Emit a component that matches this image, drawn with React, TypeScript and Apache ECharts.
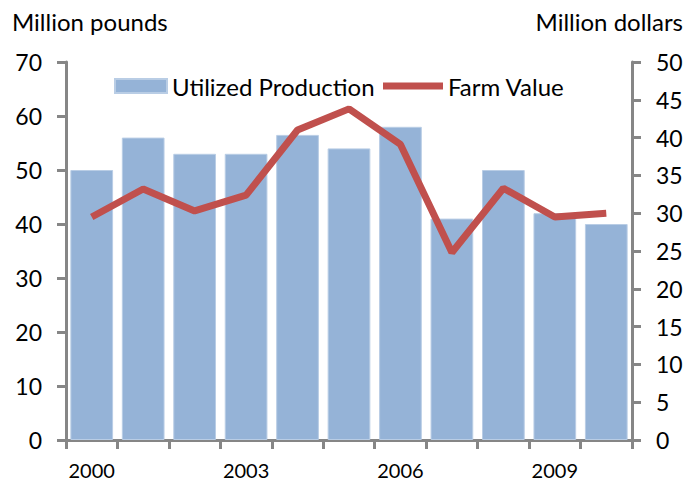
import React, { useEffect, useRef } from "react";
import * as echarts from "echarts";

const years = ["2000", "2001", "2002", "2003", "2004", "2005", "2006", "2007", "2008", "2009", "2010"];
const utilizedProduction = [50, 56, 53, 53, 56.5, 54, 58, 41, 50, 42, 40];
const farmValue = [29.5, 33.2, 30.3, 32.4, 41.0, 43.8, 39.1, 24.8, 33.3, 29.5, 30.0];

const FONT = "Lato, 'Open Sans', sans-serif";
const AXIS = "#868686";

export default function App() {
  const ref = useRef<HTMLDivElement>(null);
  useEffect(() => {
    if (!ref.current) return;
    const chart = echarts.init(ref.current, null, { renderer: "svg" });
    const legendText = { fontFamily: FONT, fontSize: 24, color: "#000" };
    chart.setOption({
      animation: false,
      textStyle: { fontFamily: FONT, color: "#000" },
      grid: { left: 66, right: 54, top: 62, bottom: 49, containLabel: false },
      legend: [
        {
          top: 74,
          left: 114,
          itemWidth: 52,
          itemHeight: 14,
          itemGap: 6,
          padding: 0,
          textStyle: legendText,
          data: [{ name: "Utilized Production", icon: "rect" }],
        },
        {
          top: 74,
          left: 383,
          itemWidth: 60,
          itemHeight: 14,
          padding: 0,
          textStyle: legendText,
          data: [{ name: "Farm Value", icon: "path://M0,0 L60,0 L60,7 L0,7 Z" }],
        },
      ],
      graphic: [
        { type: "text", left: 12, top: 9, style: { text: "Million pounds", font: `24px ${FONT}`, fill: "#000" } },
        { type: "text", right: 3, top: 9, style: { text: "Million dollars", font: `24px ${FONT}`, fill: "#000" } },
      ],
      xAxis: {
        type: "category",
        data: years,
        boundaryGap: true,
        axisLine: { lineStyle: { color: AXIS, width: 3 } },
        axisTick: { show: true, inside: false, length: 9, alignWithLabel: false, interval: 0, lineStyle: { color: AXIS, width: 3 } },
        axisLabel: { interval: 2, margin: 20, fontSize: 20, color: "#000", fontFamily: FONT },
      },
      yAxis: [
        {
          type: "value",
          min: 0,
          max: 70,
          interval: 10,
          position: "left",
          splitLine: { show: false },
          axisLine: { show: true, lineStyle: { color: AXIS, width: 3 } },
          axisTick: { show: true, length: 9, lineStyle: { color: AXIS, width: 3 } },
          axisLabel: { margin: 24, fontSize: 23, color: "#000", fontFamily: FONT },
        },
        {
          type: "value",
          min: 0,
          max: 50,
          interval: 5,
          position: "right",
          splitLine: { show: false },
          axisLine: { show: true, lineStyle: { color: AXIS, width: 3 } },
          axisTick: { show: true, length: 9, lineStyle: { color: AXIS, width: 3 } },
          axisLabel: { margin: 24, fontSize: 23, color: "#000", fontFamily: FONT },
        },
      ],
      series: [
        {
          name: "Utilized Production",
          type: "bar",
          data: utilizedProduction,
          yAxisIndex: 0,
          barCategoryGap: "17%",
          itemStyle: { color: "#95b3d7", borderColor: "#b9cde5", borderWidth: 1 },
        },
        {
          name: "Farm Value",
          type: "line",
          data: farmValue,
          yAxisIndex: 1,
          symbol: "none",
          lineStyle: { color: "#c0504d", width: 7 },
          itemStyle: { color: "#c0504d" },
        },
      ],
    });
    return () => chart.dispose();
  }, []);
  return <div ref={ref} style={{ width: 686, height: 489, position: "absolute", left: 0, top: 0 }} />;
}
